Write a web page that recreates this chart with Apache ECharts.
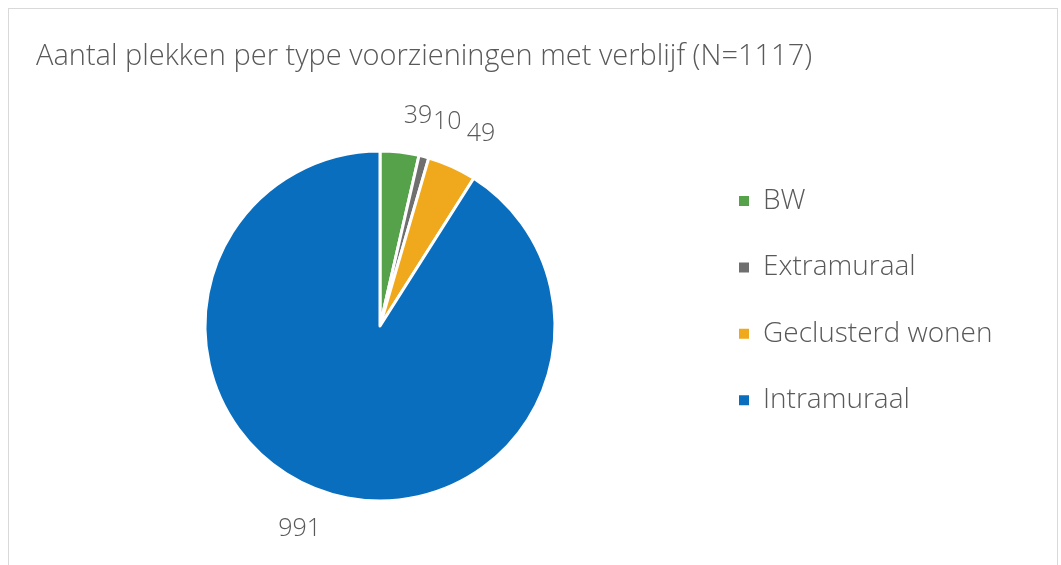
<!DOCTYPE html>
<html>
<head>
<meta charset="utf-8">
<script src="https://cdn.jsdelivr.net/npm/echarts@6/dist/echarts.min.js"></script>
<style>
  html, body { margin: 0; padding: 0; background: #fff; }
  #wrap { position: relative; width: 1061px; height: 565px; overflow: hidden; }
  #frame { position: absolute; left: 8px; top: 8px; width: 1050px; height: 600px; border: 1px solid #d9d9d9; box-sizing: border-box; }
  #chart { position: absolute; left: 0; top: 0; width: 1061px; height: 565px; }
</style>
</head>
<body>
<div id="wrap">
  <div id="frame"></div>
  <div id="chart"></div>
</div>
<script>
const titleText = 'Aantal plekken per type voorzieningen met verblijf (N=1117)';
const categories = ['BW', 'Extramuraal', 'Geclusterd wonen', 'Intramuraal'];
const values = [39, 10, 49, 991];
const colors = ['#55A24A', '#6F6F6F', '#F0A81C', '#0A6EBE'];

const chart = echarts.init(document.getElementById('chart'), null, { renderer: 'canvas' });
const font = "'Open Sans', 'Noto Sans', sans-serif";

chart.setOption({
  backgroundColor: 'transparent',
  animation: false,
  title: {
    text: titleText,
    left: 36,
    top: 40,
    padding: 0,
    textStyle: { fontFamily: font, fontSize: 29, fontWeight: 300, color: '#595959', lineHeight: 34 }
  },
  legend: {
    orient: 'vertical',
    left: 737,
    top: 186,
    padding: 0,
    itemWidth: 12,
    itemHeight: 12,
    itemGap: 36.4,
    icon: 'rect',
    data: categories,
    textStyle: { fontFamily: font, fontSize: 28, fontWeight: 300, color: '#595959', lineHeight: 30, padding: [0, 0, 0, 8] }
  },
  series: [{
    type: 'pie',
    center: [380, 326],
    radius: 175,
    startAngle: 90,
    clockwise: true,
    avoidLabelOverlap: false,
    itemStyle: { borderColor: '#ffffff', borderWidth: 3 },
    label: {
      show: true,
      position: 'outside',
      formatter: '{c}',
      distanceToLabelLine: 0,
      fontFamily: font,
      fontSize: 25,
      fontWeight: 300,
      color: '#595959'
    },
    labelLine: { show: false, length: 36, length2: 0 },
    emphasis: { disabled: true },
    data: categories.map((n, i) => ({ name: n, value: values[i], itemStyle: { color: colors[i] } }))
  }]
});
</script>
</body>
</html>
